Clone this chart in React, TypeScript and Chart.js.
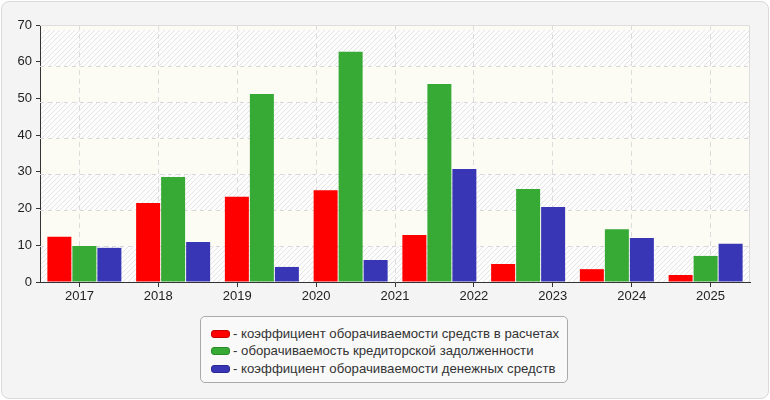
import { useEffect, useRef } from "react";
import { Chart, registerables } from "chart.js";

Chart.register(...registerables);

// tick labels shown under the axis
const years = ["2017", "2018", "2019", "2020", "2021", "2022", "2023", "2024", "2025"];
// the bar groups (one fewer than the tick labels in the source picture)
const barPeriods = ["2017", "2018", "2019", "2020", "2021", "2022", "2023", "2024"];

const seriesNames = [
  "коэффициент оборачиваемости средств в расчетах",
  "оборачиваемость кредиторской задолженности",
  "коэффициент оборачиваемости денежных средств",
];
const receivablesTurnover = [12.3, 21.5, 23.2, 25.0, 12.8, 4.9, 3.5, 1.9];
const payablesTurnover = [9.8, 28.6, 51.2, 62.7, 53.9, 25.3, 14.4, 7.1];
const cashTurnover = [9.3, 10.9, 4.1, 6.0, 30.8, 20.4, 12.0, 10.4];
const seriesColors = ["#ff0000", "#37aa35", "#3836b5"];
const seriesBorders = ["#c80000", "#2a8a28", "#2a2890"];

const yMin = 0;
const yMax = 70;
const yStep = 10;

const makeHatch = (ctx: CanvasRenderingContext2D) => {
  const tile = document.createElement("canvas");
  tile.width = 5;
  tile.height = 5;
  const t = tile.getContext("2d")!;
  t.fillStyle = "#fdfdfd";
  t.fillRect(0, 0, 5, 5);
  t.strokeStyle = "#e4e4e4";
  t.lineWidth = 1;
  t.beginPath();
  t.moveTo(-1, 6);
  t.lineTo(6, -1);
  t.moveTo(-4, 4);
  t.lineTo(4, -4);
  t.moveTo(1, 9);
  t.lineTo(9, 1);
  t.stroke();
  return ctx.createPattern(tile, "repeat")!;
};

const backdrop = {
  id: "backdrop",
  beforeDraw(chart: Chart) {
    const { ctx, chartArea: a } = chart;
    const g: any = chart.scales.yGrid;
    ctx.save();
    ctx.fillStyle = "#fcfcf4";
    ctx.fillRect(a.left, a.top, a.right - a.left, a.bottom - a.top);
    const hatch = makeHatch(ctx);
    for (let i = 0; i * yStep < g.max; i++) {
      if (i % 2 !== 0) continue;
      const bottom = g.getPixelForValue(i * yStep);
      const top = Math.max(a.top, g.getPixelForValue((i + 1) * yStep));
      ctx.fillStyle = hatch;
      ctx.fillRect(a.left, top, a.right - a.left, bottom - top);
    }
    ctx.restore();
  },
  beforeDatasetsDraw(chart: Chart) {
    const { ctx, chartArea: a } = chart;
    const g: any = chart.scales.yGrid;
    ctx.save();
    ctx.strokeStyle = "#d8d8d8";
    ctx.lineWidth = 1;
    ctx.setLineDash([4, 4]);
    g.ticks.forEach((t: any) => {
      if (t.value <= yMin || t.value >= yMax) return;
      const y = Math.round(g.getPixelForValue(t.value)) + 0.5;
      ctx.beginPath();
      ctx.moveTo(a.left, y);
      ctx.lineTo(a.right, y);
      ctx.stroke();
    });
    ctx.restore();
  },
  afterDatasetsDraw(chart: Chart) {
    const { ctx, chartArea: a } = chart;
    ctx.save();
    ctx.strokeStyle = "#dddddd";
    ctx.lineWidth = 1;
    ctx.beginPath();
    ctx.moveTo(a.left, a.top + 0.5);
    ctx.lineTo(a.right - 0.5, a.top + 0.5);
    ctx.lineTo(a.right - 0.5, a.bottom);
    ctx.stroke();
    ctx.restore();
  },
};

const font = "'Liberation Sans', Arial, sans-serif";

export default function App() {
  const canvasRef = useRef<HTMLCanvasElement | null>(null);
  const chartRef = useRef<Chart | null>(null);

  useEffect(() => {
    document.body.style.margin = "0";
    if (!canvasRef.current) return;
    if (chartRef.current) chartRef.current.destroy();

    const values = [receivablesTurnover, payablesTurnover, cashTurnover];

    chartRef.current = new Chart(canvasRef.current, {
      type: "bar",
      data: {
        labels: barPeriods,
        datasets: values.map((data, i) => ({
          label: seriesNames[i],
          data,
          backgroundColor: seriesColors[i],
          borderWidth: 0,
          xAxisID: "xBars",
          yAxisID: "y",
          barPercentage: 0.96,
          categoryPercentage: 0.845,
        })),
      },
      options: {
        animation: false,
        responsive: false,
        layout: { padding: { top: 25, right: 20, left: 0, bottom: 0 } },
        plugins: {
          legend: { display: false },
          tooltip: { enabled: false },
        },
        scales: {
          x: {
            type: "category",
            labels: years,
            offset: true,
            position: "bottom",
            grid: {
              offset: false,
              color: "#dcdcdc",
              tickColor: "#333",
              tickLength: 5,
              tickBorderDash: [],
            },
            border: { color: "#333", width: 1, dash: [5, 4] },
            ticks: { color: "#222", font: { family: font, size: 13 }, padding: 2 },
            afterFit: (s: any) => {
              s.height = 28;
            },
          },
          xBars: {
            type: "category",
            labels: barPeriods,
            offset: true,
            display: false,
          },
          y: {
            type: "linear",
            position: "left",
            min: yMin,
            max: yMax,
            ticks: {
              stepSize: yStep,
              color: "#222",
              font: { family: font, size: 13 },
              padding: 4,
            },
            grid: { drawOnChartArea: false, tickLength: 4, tickColor: "#333" },
            border: { color: "#333", width: 1 },
            afterFit: (s: any) => {
              s.width = 40;
            },
          },
          yGrid: {
            type: "linear",
            position: "left",
            display: false,
            min: yMin,
            max: 71.4,
            ticks: { stepSize: yStep },
          },
        },
      },
      plugins: [backdrop],
    });

    return () => {
      if (chartRef.current) {
        chartRef.current.destroy();
        chartRef.current = null;
      }
    };
  }, []);

  return (
    <div style={{ position: "fixed", left: 0, top: 0, width: 770, height: 400, background: "#fff" }}>
      <div
        style={{
          position: "absolute",
          left: 1,
          top: 1,
          width: 766,
          height: 396,
          border: "1px solid #d9d9d9",
          borderRadius: 8,
          background: "#f4f4f4",
        }}
      />
      <canvas
        ref={canvasRef}
        width={770}
        height={310}
        style={{ position: "absolute", left: 0, top: 0, width: 770, height: 310 }}
      />
      <div
        style={{
          position: "absolute",
          left: 200,
          top: 316,
          width: 368,
          height: 67,
          boxSizing: "border-box",
          border: "1px solid #aaa",
          borderRadius: 5,
          background: "#f9f9f9",
          padding: "8px 0 0 10px",
          fontFamily: font,
          fontSize: 13.2,
          lineHeight: "18px",
          color: "#333",
          whiteSpace: "nowrap",
        }}
      >
        {seriesNames.map((name, i) => (
          <div key={name} style={{ display: "flex", alignItems: "center", height: 17.5 }}>
            <span
              style={{
                display: "inline-block",
                width: 17,
                height: 6,
                background: seriesColors[i],
                border: `1px solid ${seriesBorders[i]}`,
                borderRadius: 3,
                marginRight: 3,
              }}
            />
            <span>- {name}</span>
          </div>
        ))}
      </div>
    </div>
  );
}
